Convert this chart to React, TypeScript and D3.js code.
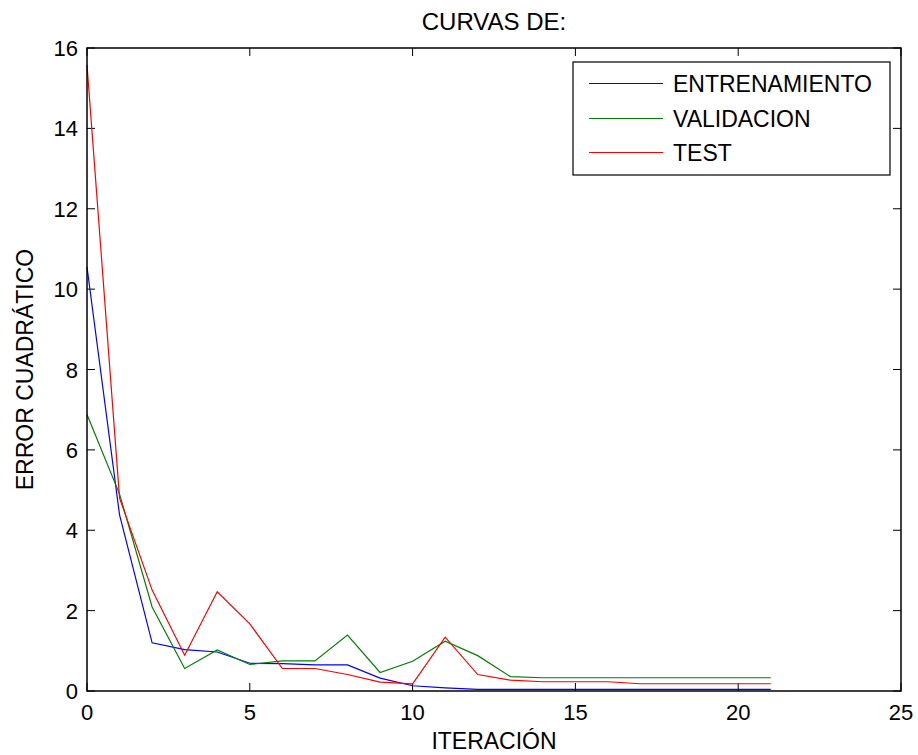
import React from "react";
import * as d3 from "d3";

const iterations = d3.range(0, 22);
const entrenamiento = [10.55, 4.38, 1.2, 1.03, 0.97, 0.69, 0.68, 0.65, 0.65, 0.32, 0.13, 0.08, 0.04, 0.04, 0.04, 0.04, 0.04, 0.04, 0.04, 0.04, 0.04, 0.04];
const validacion = [6.88, 4.9, 2.09, 0.56, 1.02, 0.66, 0.75, 0.75, 1.39, 0.46, 0.74, 1.24, 0.88, 0.36, 0.33, 0.33, 0.33, 0.33, 0.33, 0.33, 0.33, 0.33];
const test = [15.58, 4.8, 2.51, 0.89, 2.47, 1.67, 0.56, 0.56, 0.41, 0.22, 0.18, 1.34, 0.41, 0.27, 0.23, 0.23, 0.23, 0.18, 0.18, 0.18, 0.18, 0.18];
const xTicks = [0, 5, 10, 15, 20, 25];
const yTicks = [0, 2, 4, 6, 8, 10, 12, 14, 16];
const seriesNames = ["ENTRENAMIENTO", "VALIDACION", "TEST"];
const seriesColors = ["#0000ff", "#008000", "#ff0000"];
const seriesData = [entrenamiento, validacion, test];

const W = 918, H = 755;
const L = 87, R = 901, T = 48, B = 691;
const FONT = "'Liberation Sans', Arial, sans-serif";

export default function App() {
  const x = d3.scaleLinear().domain([0, 25]).range([L, R]);
  const y = d3.scaleLinear().domain([0, 16]).range([B, T]);
  const line = d3.line<number>().x((_, i) => x(iterations[i])).y((d) => y(d));
  const tl = 8;
  const legendY = [83.5, 118.5, 152.5];
  return (
    <svg width={W} height={H} style={{ position: "absolute", left: 0, top: 0, background: "#fff" }} fontFamily={FONT}>
      <rect x={0} y={0} width={W} height={H} fill="#fff" />
      <rect x={L} y={T} width={R - L} height={B - T} fill="#fff" />
      {xTicks.map((t) => (
        <g key={"x" + t}>
          <line x1={x(t)} x2={x(t)} y1={B} y2={B - tl} stroke="#000" strokeWidth={1} />
          <line x1={x(t)} x2={x(t)} y1={T} y2={T + tl} stroke="#000" strokeWidth={1} />
          <text x={x(t)} y={720} textAnchor="middle" fontSize={22}>{t}</text>
        </g>
      ))}
      {yTicks.map((t) => (
        <g key={"y" + t}>
          <line x1={L} x2={L + tl} y1={y(t)} y2={y(t)} stroke="#000" strokeWidth={1} />
          <line x1={R} x2={R - tl} y1={y(t)} y2={y(t)} stroke="#000" strokeWidth={1} />
          <text x={78} y={y(t) + 8} textAnchor="end" fontSize={22}>{t}</text>
        </g>
      ))}
      {seriesData.map((s, i) => (
        <path key={seriesNames[i]} d={line(s) || ""} fill="none" stroke={seriesColors[i]} strokeWidth={1.2} />
      ))}
      <rect x={L} y={T} width={R - L} height={B - T} fill="none" stroke="#000" strokeWidth={1.5} />
      <rect x={573} y={62} width={317} height={113} fill="#fff" stroke="#000" strokeWidth={1.2} />
      {seriesNames.map((n, i) => (
        <g key={"lg" + n}>
          <line x1={589} x2={663} y1={legendY[i]} y2={legendY[i]} stroke={seriesColors[i]} strokeWidth={1} />
          <text x={673} y={legendY[i] + 8} fontSize={23}>{n}</text>
        </g>
      ))}
      <text x={(L + R) / 2} y={30} textAnchor="middle" fontSize={24}>CURVAS DE:</text>
      <text x={(L + R) / 2} y={749} textAnchor="middle" fontSize={23}>ITERACIÓN</text>
      <text transform={`translate(33, ${(T + B) / 2}) rotate(-90)`} textAnchor="middle" fontSize={23}>ERROR CUADRÁTICO</text>
    </svg>
  );
}
